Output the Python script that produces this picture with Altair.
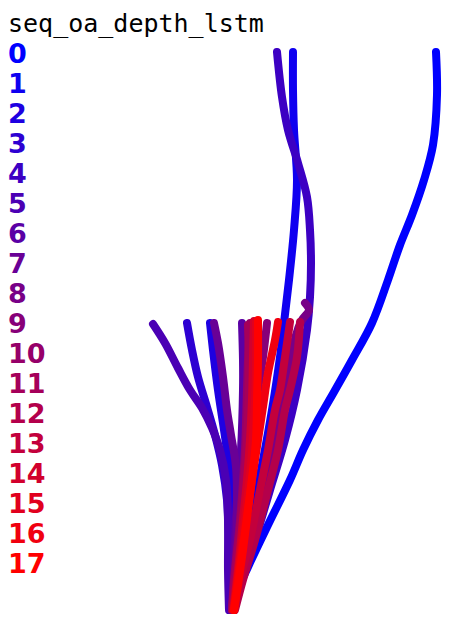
import altair as alt
import pandas as pd

TITLE = "seq_oa_depth_lstm"
LABELS = [str(i) for i in range(18)]

# trajectories (image pixel coordinates), one per index
traj_0 = [(436,52),(437,95),(433,145),(424,180),(412,215),(400,245),(388,280),(372,323),(352,360),(334,392),(318,420),(303,450),(290,480),(268,525),(248,567),(238,590),(233,608)]
traj_1 = [(293,52),(293,90),(294,130),(297,180),(294,230),(289,280),(284,323),(280,357),(272,410),(263,460),(253,510),(243,555),(236,590),(232,608)]
traj_2 = [(210,323),(213,350),(218,390),(224,430),(229,467),(231,520),(231,570),(231,610)]
traj_3 = [(187,323),(192,350),(198,377),(207,407),(215,435),(222,465),(227,500),(229,550),(230,610)]
traj_4 = [(277,52),(282,97),(288,130),(298,163),(307,197),(310,230),(311,263),(310,297),(307,330),(297,390),(285,440),(270,490),(255,540),(242,580),(234,608)]
traj_5 = [(153,324),(165,343),(178,368),(190,390),(202,408),(212,428),(220,450),(226,480),(228,520),(228,570),(229,610)]
traj_6 = [(242,323),(243,360),(243,390),(241,450),(237,500),(234,560),(232,610)]
traj_7 = [(214,323),(218,343),(223,377),(227,410),(231,435),(236,467),(237,520),(235,570),(232,610)]
traj_8 = [(305,303),(309,310),(302,320),(296,335),(288,380),(278,430),(265,480),(252,530),(241,575),(233,608)]
traj_9 = [(267,323),(263,357),(258,390),(252,440),(245,500),(238,560),(233,610)]
traj_10 = [(250,323),(248,360),(247,390),(245,450),(240,520),(234,580),(232,610)]
traj_11 = [(248,325),(249,370),(248,420),(245,470),(240,530),(235,580),(232,610)]
traj_12 = [(300,322),(297,357),(290,390),(285,410),(278,450),(268,490),(255,540),(243,580),(235,610)]
traj_13 = [(290,322),(285,357),(280,390),(275,410),(268,450),(260,490),(250,540),(240,580),(234,610)]
traj_14 = [(254,321),(253,360),(252,400),(250,440),(247,480),(243,520),(239,560),(235,595),(233,610)]
traj_15 = [(256,322),(256,370),(254,420),(251,465),(246,510),(240,560),(234,610)]
traj_16 = [(278,322),(275,340),(268,373),(263,407),(258,440),(252,480),(245,530),(239,570),(234,610)]
traj_17 = [(258,320),(258,360),(257,400),(256,440),(253,470),(248,510),(243,550),(238,585),(234,610)]

TRAJS = [traj_0, traj_1, traj_2, traj_3, traj_4, traj_5, traj_6, traj_7, traj_8,
         traj_9, traj_10, traj_11, traj_12, traj_13, traj_14, traj_15, traj_16, traj_17]

COLORS = []
for i in range(18):
    r = round(255 * i / 17)
    COLORS.append("#%02x00%02x" % (r, 255 - r))

rows = []
for i, tr in enumerate(TRAJS):
    for k, (x, y) in enumerate(tr):
        rows.append({"idx": LABELS[i], "k": k, "x": x, "y": y})
df = pd.DataFrame(rows)

lab = pd.DataFrame({"idx": LABELS, "x": [8] * 18, "y": [63 + 30 * i for i in range(18)]})
ttl = pd.DataFrame({"t": [TITLE], "x": [8], "y": [32]})

W, H = 439, 610
xs = alt.Scale(domain=[8, 8 + W], nice=False, zero=False)
ys = alt.Scale(domain=[8, 8 + H], nice=False, zero=False, reverse=True)
cs = alt.Scale(domain=LABELS, range=COLORS)

lines = alt.Chart(df).mark_line(strokeWidth=8, strokeCap="round", strokeJoin="round",
                                interpolate="catmull-rom", clip=False).encode(
    x=alt.X("x:Q", scale=xs, axis=None),
    y=alt.Y("y:Q", scale=ys, axis=None),
    color=alt.Color("idx:N", scale=cs, legend=None, sort=LABELS),
    detail="idx:N",
    order="k:Q",
)

labels = alt.Chart(lab).mark_text(align="left", baseline="alphabetic", font="DejaVu Sans",
                                  fontSize=27, fontWeight="bold").encode(
    x=alt.X("x:Q", scale=xs, axis=None),
    y=alt.Y("y:Q", scale=ys, axis=None),
    text="idx:N",
    color=alt.Color("idx:N", scale=cs, legend=None, sort=LABELS),
)

title = alt.Chart(ttl).mark_text(align="left", baseline="alphabetic", font="DejaVu Sans Mono",
                                 fontSize=25, color="black").encode(
    x=alt.X("x:Q", scale=xs, axis=None),
    y=alt.Y("y:Q", scale=ys, axis=None),
    text="t:N",
)

chart = alt.layer(lines, labels, title).properties(
    width=W, height=H, padding=0, autosize=alt.AutoSizeParams(type="none"),
    background="white",
).configure_view(stroke=None)

chart.save("out.html", embed_options={"renderer": "svg", "actions": False})
